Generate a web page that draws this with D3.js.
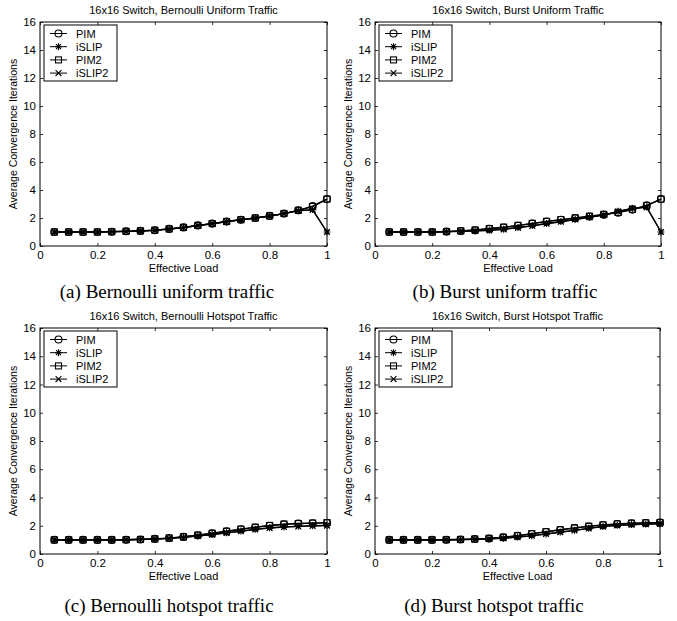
<!DOCTYPE html>
<html>
<head>
    <meta charset="UTF-8" />
    <title>convergence</title>
    <style>
        body {
            margin: 0;
            padding: 0;
            background-color: white;
        }

        svg text {
            font-family: 'Liberation Sans', Arial, sans-serif;
            fill: black;
        }

        svg text.caption {
            font-family: 'Liberation Serif', 'Times New Roman', serif;
        }
    </style>
</head>
<body>
    <svg id="chart" width="677" height="621"></svg>

    <script src="https://cdnjs.cloudflare.com/ajax/libs/d3/7.8.5/d3.min.js"></script>
    <script>
        // offered load, x values shared by every panel
        const loads = [0.05, 0.1, 0.15, 0.2, 0.25, 0.3, 0.35, 0.4, 0.45, 0.5,
            0.55, 0.6, 0.65, 0.7, 0.75, 0.8, 0.85, 0.9, 0.95, 1.0]

        const seriesNames = ['PIM', 'iSLIP', 'PIM2', 'iSLIP2']
        const xTicks = [0, 0.2, 0.4, 0.6, 0.8, 1]
        const yTicks = [0, 2, 4, 6, 8, 10, 12, 14, 16]

        // (a) bernoulli uniform
        const bernUniPIM = [1, 1, 1, 1, 1.02, 1.05, 1.08, 1.13, 1.22, 1.33, 1.47, 1.6, 1.75, 1.88, 2.0, 2.15, 2.32, 2.55, 2.85, 3.35]
        const bernUniSLIP = [1, 1, 1, 1, 1.02, 1.04, 1.07, 1.12, 1.21, 1.32, 1.46, 1.59, 1.74, 1.87, 1.99, 2.14, 2.31, 2.52, 2.6, 1.0]
        const bernUniPIM2 = [1, 1, 1, 1, 1.02, 1.05, 1.08, 1.13, 1.22, 1.33, 1.47, 1.6, 1.75, 1.88, 2.0, 2.15, 2.32, 2.55, 2.82, 3.35]
        const bernUniSLIP2 = [1, 1, 1, 1, 1.02, 1.04, 1.07, 1.12, 1.21, 1.32, 1.46, 1.59, 1.74, 1.87, 1.99, 2.14, 2.31, 2.52, 2.58, 1.0]

        // (b) burst uniform
        const burstUniPIM = [1, 1, 1, 1, 1.03, 1.07, 1.13, 1.22, 1.32, 1.45, 1.6, 1.74, 1.87, 1.99, 2.11, 2.24, 2.38, 2.6, 2.9, 3.35]
        const burstUniSLIP = [1, 1, 1, 1, 1.02, 1.05, 1.08, 1.12, 1.2, 1.32, 1.46, 1.61, 1.75, 1.91, 2.06, 2.22, 2.48, 2.7, 2.78, 1.0]
        const burstUniPIM2 = [1, 1, 1, 1, 1.03, 1.08, 1.15, 1.25, 1.35, 1.48, 1.62, 1.76, 1.89, 2.01, 2.13, 2.26, 2.4, 2.62, 2.88, 3.35]
        const burstUniSLIP2 = [1, 1, 1, 1, 1.02, 1.05, 1.08, 1.11, 1.19, 1.3, 1.44, 1.59, 1.73, 1.89, 2.05, 2.21, 2.46, 2.68, 2.76, 1.0]

        // (c) bernoulli hotspot
        const bernHotPIM = [1, 1, 1, 1, 1, 1.01, 1.03, 1.07, 1.13, 1.21, 1.33, 1.46, 1.6, 1.75, 1.88, 2.0, 2.1, 2.15, 2.18, 2.2]
        const bernHotSLIP = [1, 1, 1, 1, 1, 1.01, 1.03, 1.06, 1.11, 1.18, 1.28, 1.38, 1.5, 1.62, 1.75, 1.85, 1.92, 1.96, 2.0, 2.02]
        const bernHotPIM2 = [1, 1, 1, 1, 1, 1.01, 1.03, 1.07, 1.13, 1.22, 1.34, 1.47, 1.61, 1.76, 1.9, 2.02, 2.12, 2.16, 2.19, 2.22]
        const bernHotSLIP2 = [1, 1, 1, 1, 1, 1.01, 1.03, 1.06, 1.1, 1.17, 1.27, 1.37, 1.49, 1.61, 1.74, 1.84, 1.91, 1.95, 1.99, 2.01]

        // (d) burst hotspot
        const burstHotPIM = [1, 1, 1, 1, 1.01, 1.03, 1.06, 1.1, 1.18, 1.28, 1.42, 1.56, 1.7, 1.83, 1.95, 2.05, 2.12, 2.17, 2.2, 2.22]
        const burstHotSLIP = [1, 1, 1, 1, 1.01, 1.02, 1.04, 1.07, 1.12, 1.2, 1.3, 1.42, 1.55, 1.68, 1.82, 1.95, 2.03, 2.08, 2.12, 2.15]
        const burstHotPIM2 = [1, 1, 1, 1, 1.01, 1.03, 1.06, 1.11, 1.19, 1.3, 1.44, 1.58, 1.72, 1.85, 1.97, 2.06, 2.13, 2.18, 2.21, 2.23]
        const burstHotSLIP2 = [1, 1, 1, 1, 1.01, 1.02, 1.04, 1.07, 1.11, 1.19, 1.29, 1.41, 1.54, 1.67, 1.81, 1.94, 2.02, 2.07, 2.11, 2.14]

        const panels = [
            { title: '16x16 Switch, Bernoulli Uniform Traffic', caption: '(a) Bernoulli uniform traffic',
              left: 40, top: 22, right: 327, bottom: 246, capX: 167, capY: 298,
              values: [bernUniPIM, bernUniSLIP, bernUniPIM2, bernUniSLIP2] },
            { title: '16x16 Switch, Burst Uniform Traffic', caption: '(b) Burst uniform traffic',
              left: 375, top: 22, right: 661, bottom: 246, capX: 505, capY: 298,
              values: [burstUniPIM, burstUniSLIP, burstUniPIM2, burstUniSLIP2] },
            { title: '16x16 Switch, Bernoulli Hotspot Traffic', caption: '(c) Bernoulli hotspot traffic',
              left: 40, top: 328, right: 327, bottom: 554, capX: 169, capY: 612,
              values: [bernHotPIM, bernHotSLIP, bernHotPIM2, bernHotSLIP2] },
            { title: '16x16 Switch, Burst Hotspot Traffic', caption: '(d) Burst hotspot traffic',
              left: 375, top: 328, right: 660, bottom: 554, capX: 494, capY: 612,
              values: [burstHotPIM, burstHotSLIP, burstHotPIM2, burstHotSLIP2] }
        ]

        const svg = d3.select('#chart')

        // marker shapes, open like matlab
        function drawMarker(g, kind, x, y) {
            const sw = 1.1
            if (kind === 0) {
                g.append('circle').attr('cx', x).attr('cy', y).attr('r', 3.5)
                    .attr('fill', 'none').attr('stroke', 'black').attr('stroke-width', sw)
            } else if (kind === 1) {
                const r = 3.5, d = r * 0.7071
                g.append('path')
                    .attr('d', `M${x - r},${y}L${x + r},${y}M${x},${y - r}L${x},${y + r}` +
                        `M${x - d},${y - d}L${x + d},${y + d}M${x - d},${y + d}L${x + d},${y - d}`)
                    .attr('stroke', 'black').attr('stroke-width', sw)
            } else if (kind === 2) {
                g.append('rect').attr('x', x - 3).attr('y', y - 3).attr('width', 6).attr('height', 6)
                    .attr('fill', 'none').attr('stroke', 'black').attr('stroke-width', sw)
            } else {
                const d = 2.9
                g.append('path')
                    .attr('d', `M${x - d},${y - d}L${x + d},${y + d}M${x - d},${y + d}L${x + d},${y - d}`)
                    .attr('stroke', 'black').attr('stroke-width', sw)
            }
        }

        panels.forEach(p => {
            const x = d3.scaleLinear().domain([0, 1]).range([p.left, p.right])
            const y = d3.scaleLinear().domain([0, 16]).range([p.bottom, p.top])
            const g = svg.append('g')

            // ticks on all four sides, pointing in
            const tickLen = 3
            g.append('g').attr('transform', `translate(0,${p.bottom})`)
                .call(d3.axisBottom(x).tickValues(xTicks).tickSizeInner(-tickLen).tickSizeOuter(0)
                    .tickPadding(5).tickFormat(d3.format('')))
            g.append('g').attr('transform', `translate(0,${p.top})`)
                .call(d3.axisTop(x).tickValues(xTicks).tickSizeInner(-tickLen).tickSizeOuter(0).tickFormat(''))
            g.append('g').attr('transform', `translate(${p.left},0)`)
                .call(d3.axisLeft(y).tickValues(yTicks).tickSizeInner(-tickLen).tickSizeOuter(0).tickPadding(4))
            g.append('g').attr('transform', `translate(${p.right},0)`)
                .call(d3.axisRight(y).tickValues(yTicks).tickSizeInner(-tickLen).tickSizeOuter(0).tickFormat(''))
            g.selectAll('.domain').remove()
            g.selectAll('.tick line').attr('stroke', 'black').attr('stroke-width', 0.8)
            g.selectAll('.tick text').style('font-size', '11.5px').attr('fill', 'black')

            g.append('rect')
                .attr('x', p.left).attr('y', p.top)
                .attr('width', p.right - p.left).attr('height', p.bottom - p.top)
                .attr('fill', 'none').attr('stroke', 'black').attr('stroke-width', 1)

            // lines then markers
            const line = d3.line().x((d, i) => x(loads[i])).y(d => y(d))
            p.values.forEach(vals => {
                g.append('path').datum(vals).attr('d', line)
                    .attr('fill', 'none').attr('stroke', 'black').attr('stroke-width', 1.3)
            })
            p.values.forEach((vals, k) => {
                vals.forEach((v, i) => drawMarker(g, k, x(loads[i]), y(v)))
            })

            // labels
            g.append('text').attr('x', (p.left + p.right) / 2).attr('y', p.top - 8)
                .attr('text-anchor', 'middle').style('font-size', '11px').text(p.title)
            g.append('text').attr('x', (p.left + p.right) / 2).attr('y', p.bottom + 26)
                .attr('text-anchor', 'middle').style('font-size', '11px').text('Effective Load')
            g.append('text')
                .attr('transform', `translate(${p.left - 23},${(p.top + p.bottom) / 2}) rotate(-90)`)
                .attr('text-anchor', 'middle').style('font-size', '10.5px').text('Average Convergence Iterations')
            g.append('text').attr('class', 'caption').attr('x', p.capX).attr('y', p.capY)
                .attr('text-anchor', 'middle').style('font-size', '19px').text(p.caption)

            // legend
            const lx = p.left + 4, ly = p.top + 3
            const leg = g.append('g')
            leg.append('rect').attr('x', lx).attr('y', ly).attr('width', 73).attr('height', 56)
                .attr('fill', 'white').attr('stroke', 'black').attr('stroke-width', 1)
            seriesNames.forEach((name, k) => {
                const ry = ly + 8.5 + k * 13.2
                leg.append('line').attr('x1', lx + 6).attr('x2', lx + 23).attr('y1', ry).attr('y2', ry)
                    .attr('stroke', 'black').attr('stroke-width', 1)
                drawMarker(leg, k, lx + 14.5, ry)
                leg.append('text').attr('x', lx + 32).attr('y', ry + 4)
                    .style('font-size', '11px').text(name)
            })
        })
    </script>
</body>
</html>
